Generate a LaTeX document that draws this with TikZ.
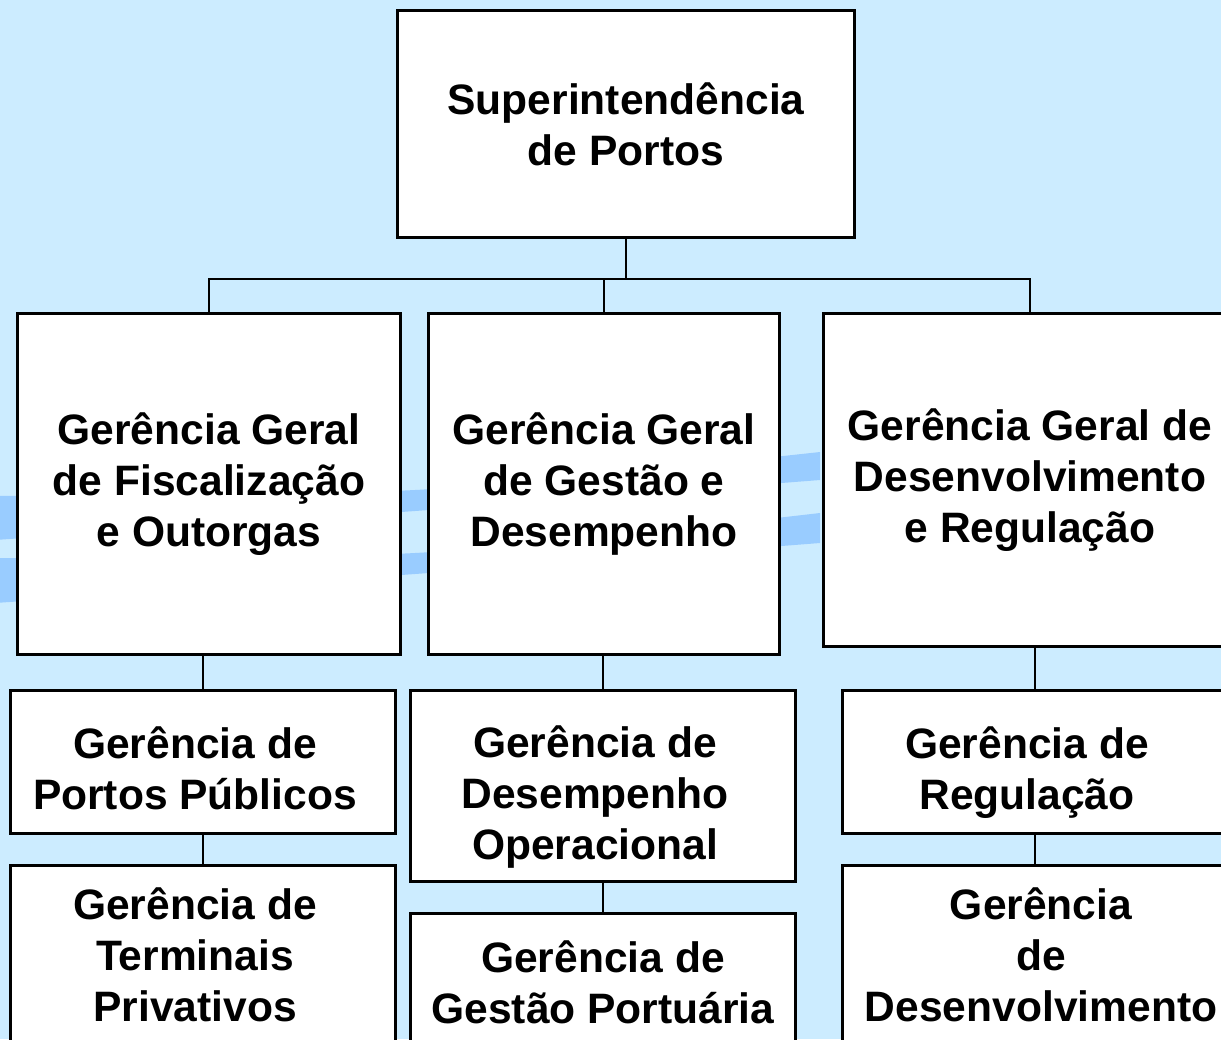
\documentclass[tikz,border=0pt]{standalone}
\usepackage{fontspec}
\setmainfont{Liberation Sans}
\definecolor{skybg}{RGB}{204,236,255}
\definecolor{wave}{RGB}{153,204,255}

\begin{document}
\begin{tikzpicture}[
  x=0.01cm, y=-0.01cm,
  every node/.style={draw, line width=0.85pt, fill=white, align=center, inner sep=2pt,
    font=\fontsize{12.1}{14.5}\selectfont\bfseries},
  unit/.style 2 args={minimum width=#1cm, minimum height=#2cm},
  nudge/.style 2 args={text width=3.6cm, align=flush center,
    execute at begin node={\advance\rightskip by #1\relax\rule{0pt}{#2}}},
  link/.style={line width=0.6pt}
]
\useasboundingbox (0,0) rectangle (1221,1039);
\fill[skybg] (0,0) rectangle (1221,1039);
\clip (0,0) rectangle (1221,1039);
% background waves
\fill[wave] plot[smooth] coordinates {(-20,496) (415,490) (820,452)}
  -- plot[smooth] coordinates {(820,480) (415,511) (-20,541)} -- cycle;
\fill[wave] plot[smooth] coordinates {(-20,558) (415,553) (820,513)}
  -- plot[smooth] coordinates {(820,543) (415,574) (-20,604)} -- cycle;

\node[unit={4.57}{2.27}] (sup) at (626,124) {Superintendência\\de Portos};

\node[unit={3.82}{3.40}] (fisc) at (209,484) {Gerência Geral\\de Fiscalização\\e Outorgas};
\node[unit={3.50}{3.40}] (gest) at (604,484) {Gerência Geral\\de Gestão e\\Desempenho};
\node[unit={4.12}{3.33}] (dev) at (1030,480) {Gerência Geral de\\Desenvolvimento\\e Regulação};

\node[unit={3.84}{1.43}, nudge={0.16cm}{12.6pt}] (portos) at (203,762) {Gerência de\\Portos Públicos};
\node[unit={3.84}{1.78}, nudge={0.16cm}{0pt}] (term) at (203,955) {Gerência de\\Terminais\\Privativos};
\node[unit={3.84}{1.91}, nudge={0.16cm}{15.2pt}] (desemp) at (603,786) {Gerência de\\Desempenho\\Operacional};
\node[unit={3.84}{1.36}] (portu) at (603,982) {Gerência de\\Gestão Portuária};
\node[unit={3.84}{1.43}, nudge={0.16cm}{14.8pt}] (regul) at (1035,762) {Gerência de\\Regulação};
\node[unit={3.84}{1.78}, nudge={-0.12cm}{0pt}] (desenv) at (1035,955) {Gerência\\de\\Desenvolvimento};

% connectors
\draw[link] (sup.south) -- ++(0,40) coordinate (bar);
\draw[link] (fisc.north) |- (bar) -| (dev.north);
\draw[link] (gest.north) -- (gest.north |- bar);

\draw[link] (portos.north |- fisc.south) -- (portos.north);
\draw[link] (portos) -- (term);
\draw[link] (desemp.north |- gest.south) -- (desemp.north);
\draw[link] (desemp) -- (portu);
\draw[link] (regul.north |- dev.south) -- (regul.north);
\draw[link] (regul) -- (desenv);
\end{tikzpicture}
\end{document}
